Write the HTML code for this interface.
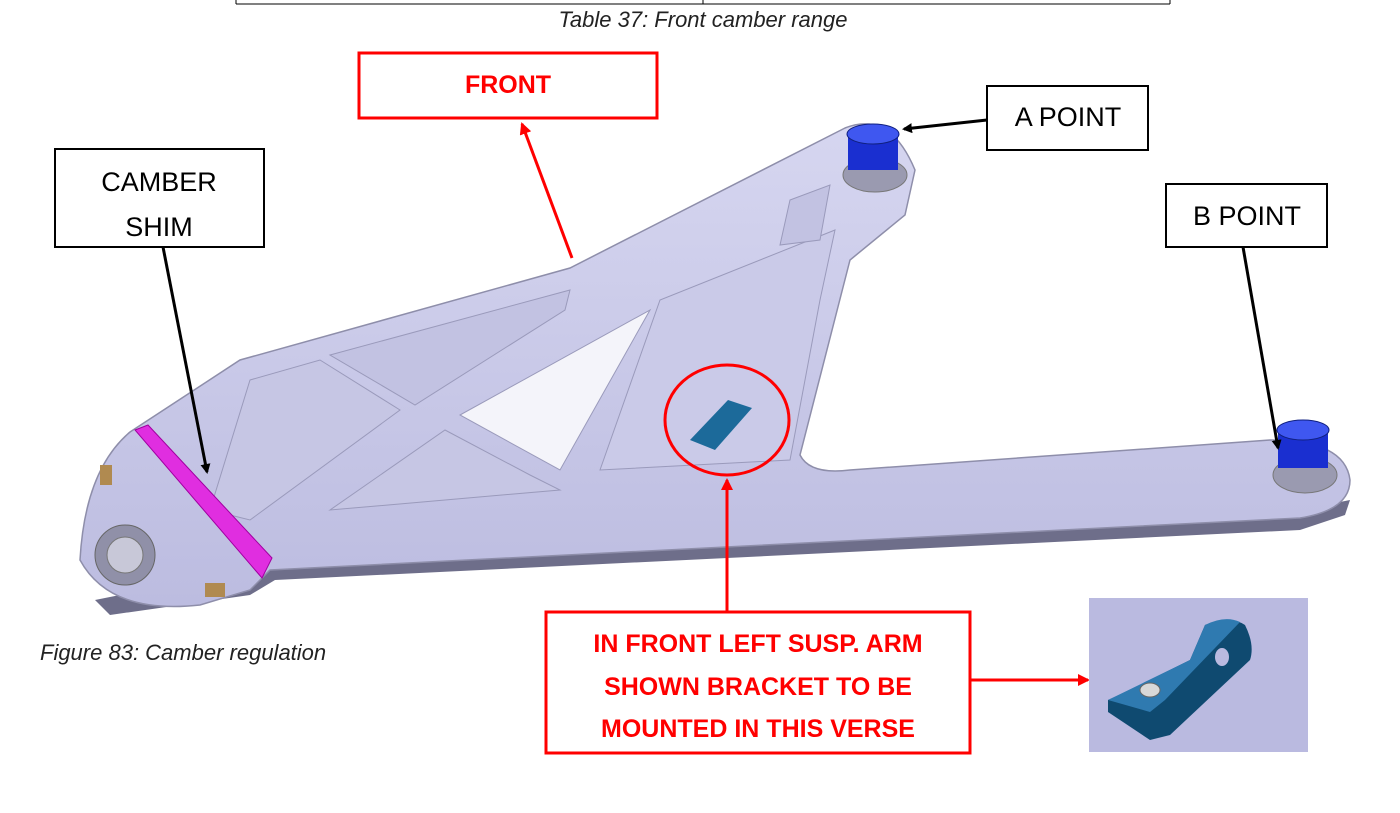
<!DOCTYPE html>
<html><head><meta charset="utf-8"><style>
html,body{margin:0;padding:0;background:#fff;}
body{width:1400px;height:813px;overflow:hidden;position:relative;font-family:"Liberation Sans",sans-serif;}
svg{position:absolute;left:0;top:0;}
</style></head><body>
<svg width="1400" height="813" viewBox="0 0 1400 813" xmlns="http://www.w3.org/2000/svg">
<defs>
<marker id="ab" markerWidth="10" markerHeight="10" refX="8" refY="5" orient="auto" markerUnits="userSpaceOnUse"><path d="M0,0 L10,5 L0,10 z" fill="#000"/></marker>
<marker id="ar" markerWidth="12" markerHeight="12" refX="10" refY="6" orient="auto" markerUnits="userSpaceOnUse"><path d="M0,0 L12,6 L0,12 z" fill="#f00"/></marker>
<linearGradient id="arm" x1="0" y1="0" x2="0" y2="1"><stop offset="0" stop-color="#d6d6f0"/><stop offset="1" stop-color="#bcbce0"/></linearGradient>
</defs>
<line x1="236" y1="0" x2="236" y2="4" stroke="#000"/>
<line x1="703" y1="0" x2="703" y2="4" stroke="#000"/>
<line x1="1170" y1="0" x2="1170" y2="4" stroke="#000"/>
<line x1="236" y1="4" x2="1170" y2="4" stroke="#000"/>
<text x="703" y="27" text-anchor="middle" font-size="22" font-style="italic" fill="#222">Table 37: Front camber range</text>

<path d="M95,600 L110,615 L250,595 L275,580 L1300,530 L1345,515 L1350,500 L1300,510 L270,565 Z" fill="#6e6e8a"/>
<path d="M80,560 Q85,470 130,432 L240,360 L570,268 L845,128 Q890,110 915,170 L905,215 L850,260 L800,455 Q810,475 850,470 L1270,440 Q1345,440 1350,480 Q1350,510 1300,518 L270,570 L250,590 L200,605 Q110,615 80,560 Z" fill="url(#arm)" stroke="#8e8eaa" stroke-width="1.5"/>
<path d="M330,355 L570,290 L565,310 L415,405 Z" fill="#c2c2e2" stroke="#9a9abb"/>
<path d="M250,380 L320,360 L400,410 L250,520 L210,510 Z" fill="#c6c6e4" stroke="#9a9abb"/>
<path d="M330,510 L445,430 L530,475 L560,490 Z" fill="#c6c6e4" stroke="#9a9abb"/>
<path d="M460,415 L650,310 L560,470 Z" fill="#f4f4fa" stroke="#9a9abb"/>
<path d="M600,470 L660,300 L835,230 L820,300 L790,460 Z" fill="#cacae8" stroke="#9a9abb"/>
<path d="M790,200 L830,185 L820,240 L780,245 Z" fill="#c2c2e2" stroke="#9a9abb"/>
<circle cx="125" cy="555" r="30" fill="#9090a8" stroke="#666"/>
<circle cx="125" cy="555" r="18" fill="#c8c8d8" stroke="#777"/>
<rect x="100" y="465" width="12" height="20" fill="#b08a50"/>
<rect x="205" y="583" width="20" height="14" fill="#b08a50"/>
<path d="M135,430 L148,425 L272,558 L262,578 Z" fill="#e02ee0" stroke="#a000a0"/>
<ellipse cx="875" cy="175" rx="32" ry="17" fill="#9a9ab0" stroke="#777"/>
<rect x="848" y="132" width="50" height="38" fill="#1a2fd0"/>
<ellipse cx="873" cy="134" rx="26" ry="10" fill="#3f57f0" stroke="#102080"/>
<ellipse cx="1305" cy="475" rx="32" ry="18" fill="#9a9ab0" stroke="#777"/>
<rect x="1278" y="428" width="50" height="40" fill="#1a2fd0"/>
<ellipse cx="1303" cy="430" rx="26" ry="10" fill="#3f57f0" stroke="#102080"/>
<path d="M690,440 L728,400 L752,408 L715,450 Z" fill="#1c6a9a"/>
<ellipse cx="727" cy="420" rx="62" ry="55" fill="none" stroke="#f00" stroke-width="3"/>

<rect x="359" y="53" width="298" height="65" fill="#fff" stroke="#f00" stroke-width="3"/>
<text x="508" y="93" text-anchor="middle" font-size="25" font-weight="bold" fill="#f00">FRONT</text>
<line x1="572" y1="258" x2="522" y2="124" stroke="#f00" stroke-width="3" marker-end="url(#ar)"/>

<rect x="987" y="86" width="161" height="64" fill="#fff" stroke="#000" stroke-width="2"/>
<text x="1068" y="126" text-anchor="middle" font-size="27" fill="#000">A POINT</text>
<line x1="987" y1="120" x2="904" y2="129" stroke="#000" stroke-width="3" marker-end="url(#ab)"/>

<rect x="1166" y="184" width="161" height="63" fill="#fff" stroke="#000" stroke-width="2"/>
<text x="1247" y="225" text-anchor="middle" font-size="27" fill="#000">B POINT</text>
<line x1="1243" y1="247" x2="1278" y2="448" stroke="#000" stroke-width="3" marker-end="url(#ab)"/>

<rect x="55" y="149" width="209" height="98" fill="#fff" stroke="#000" stroke-width="2"/>
<text x="159" y="191" text-anchor="middle" font-size="27" fill="#000">CAMBER</text>
<text x="159" y="236" text-anchor="middle" font-size="27" fill="#000">SHIM</text>
<line x1="163" y1="247" x2="207" y2="472" stroke="#000" stroke-width="3" marker-end="url(#ab)"/>

<line x1="727" y1="611" x2="727" y2="480" stroke="#f00" stroke-width="3" marker-end="url(#ar)"/>
<rect x="546" y="612" width="424" height="141" fill="#fff" stroke="#f00" stroke-width="3"/>
<text x="758" y="652" text-anchor="middle" font-size="25" font-weight="bold" fill="#f00">IN FRONT LEFT SUSP. ARM</text>
<text x="758" y="695" text-anchor="middle" font-size="25" font-weight="bold" fill="#f00">SHOWN BRACKET TO BE</text>
<text x="758" y="737" text-anchor="middle" font-size="25" font-weight="bold" fill="#f00">MOUNTED IN THIS VERSE</text>
<line x1="970" y1="680" x2="1088" y2="680" stroke="#f00" stroke-width="3" marker-end="url(#ar)"/>

<rect x="1089" y="598" width="219" height="154" fill="#babae0"/>
<path d="M1108,700 L1130,690 L1190,660 L1205,625 Q1230,615 1245,625 Q1255,645 1250,660 L1170,735 L1150,740 L1108,712 Z" fill="#0f4a70"/>
<path d="M1108,700 L1190,660 L1205,625 Q1225,615 1240,622 L1165,700 L1150,712 Z" fill="#2f7ab0"/>
<ellipse cx="1222" cy="657" rx="7" ry="9" fill="#babae0"/>
<ellipse cx="1150" cy="690" rx="10" ry="7" fill="#d8d8d8" stroke="#666"/>

<text x="40" y="660" font-size="22" font-style="italic" fill="#222">Figure 83: Camber regulation</text>
</svg>
</body></html>
